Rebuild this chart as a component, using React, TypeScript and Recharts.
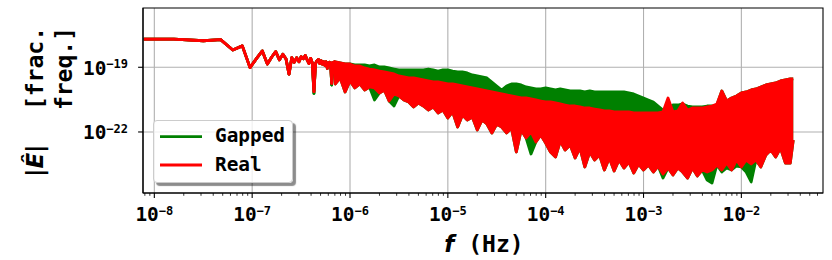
import React from 'react';
import { ComposedChart, Area, XAxis, YAxis, CartesianGrid, Legend, ReferenceArea, Label } from 'recharts';

const MONO = "'DejaVu Sans Mono', monospace";
const MATH = "'DejaVu Sans', sans-serif";

// Low-frequency part: individual FFT bins (k * 1/T)
const sparseFreq = [
  7.8e-9, 1.585e-8, 3.17e-8, 4.76e-8, 6.34e-8, 7.93e-8, 9.51e-8, 1.11e-7, 1.27e-7, 1.43e-7,
  1.585e-7, 1.74e-7, 1.9e-7, 2.06e-7, 2.22e-7, 2.38e-7, 2.54e-7, 2.69e-7, 2.85e-7, 3.01e-7,
  3.17e-7, 3.33e-7, 3.49e-7, 3.65e-7, 3.8e-7, 3.96e-7, 4.12e-7, 4.28e-7, 4.44e-7, 4.6e-7,
  4.76e-7, 4.91e-7, 5.07e-7, 5.23e-7, 5.39e-7, 5.55e-7, 5.71e-7, 5.86e-7, 6.02e-7, 6.18e-7,
  6.34e-7, 6.5e-7, 6.66e-7, 6.82e-7, 6.97e-7,
];
const sparseReal = [
  2.0e-18, 2.0e-18, 1.7e-18, 1.9e-18, 6.3e-19, 9.8e-19, 9.6e-20, 2.6e-19, 5.7e-19, 1.4e-19,
  3.0e-19, 5.3e-19, 2.2e-19, 4.0e-19, 2.4e-19, 4.8e-20, 2.8e-19, 1.7e-19, 2.8e-19, 1.8e-19,
  3.1e-19, 2.5e-19, 3.5e-19, 2.2e-19, 1.5e-19, 2.6e-19, 1.6e-19, 7.4e-21, 1.5e-19, 2.0e-19,
  2.3e-19, 1.5e-19, 2.0e-19, 1.4e-19, 1.8e-19, 1.2e-19, 1.8e-19, 8.9e-20, 1.5e-19, 1.7e-19,
  1.5e-19, 1.8e-20, 1.7e-19, 1.2e-19, 1.8e-19,
];
const sparseGapped = [
  2.0e-18, 2.0e-18, 1.7e-18, 1.9e-18, 6.3e-19, 9.8e-19, 9.6e-20, 2.6e-19, 5.7e-19, 1.4e-19,
  3.0e-19, 5.3e-19, 2.2e-19, 4.0e-19, 2.4e-19, 4.8e-20, 2.8e-19, 1.7e-19, 2.8e-19, 1.8e-19,
  3.1e-19, 2.5e-19, 3.5e-19, 2.2e-19, 1.5e-19, 2.6e-19, 1.6e-19, 6.2e-21, 1.5e-19, 2.0e-19,
  2.3e-19, 1.5e-19, 2.0e-19, 1.4e-19, 1.8e-19, 1.2e-19, 1.8e-19, 8.9e-20, 1.5e-19, 1.7e-19,
  1.5e-19, 1.5e-20, 1.7e-19, 1.2e-19, 1.8e-19,
];

// High-frequency part: upper / lower envelope of the dense noise band
const bandFreq = [
  7.08e-7, 7.94e-7, 8.91e-7,
  1.0e-6, 1.12e-6, 1.26e-6, 1.41e-6, 1.58e-6, 1.78e-6, 2.0e-6, 2.24e-6, 2.51e-6, 2.82e-6,
  3.16e-6, 3.55e-6, 3.98e-6, 4.47e-6, 5.01e-6, 5.62e-6, 6.31e-6, 7.08e-6, 7.94e-6, 8.91e-6,
  1.0e-5, 1.12e-5, 1.26e-5, 1.41e-5, 1.58e-5, 1.78e-5, 2.0e-5, 2.24e-5, 2.51e-5, 2.82e-5,
  3.16e-5, 3.55e-5, 3.98e-5, 4.47e-5, 5.01e-5, 5.62e-5, 6.31e-5, 7.08e-5, 7.94e-5, 8.91e-5,
  1.0e-4, 1.12e-4, 1.26e-4, 1.41e-4, 1.58e-4, 1.78e-4, 2.0e-4, 2.24e-4, 2.51e-4, 2.82e-4,
  3.16e-4, 3.55e-4, 3.98e-4, 4.47e-4, 5.01e-4, 5.62e-4, 6.31e-4, 7.08e-4, 7.94e-4, 8.91e-4,
  1.0e-3, 1.12e-3, 1.26e-3, 1.41e-3, 1.58e-3, 1.78e-3, 2.0e-3, 2.24e-3, 2.51e-3, 2.82e-3,
  3.16e-3, 3.55e-3, 3.98e-3, 4.47e-3, 5.01e-3, 5.62e-3, 6.31e-3, 7.08e-3, 7.94e-3, 8.91e-3,
  1.0e-2, 1.12e-2, 1.26e-2, 1.41e-2, 1.58e-2, 1.78e-2, 2.0e-2, 2.24e-2, 2.51e-2, 2.82e-2,
  3.16e-2, 3.39e-2,
];
const gappedHigh = [
  1.76e-19, 1.58e-19, 1.42e-19, 1.42e-19, 1.28e-19, 1.28e-19, 1.28e-19, 1.15e-19, 1.28e-19, 1.03e-19,
  1.03e-19, 9.3e-20, 8.3e-20, 7.5e-20, 7.5e-20, 7.5e-20, 7.5e-20, 7.5e-20, 7.5e-20, 8.3e-20,
  7.5e-20, 6.7e-20, 7.5e-20, 7.5e-20, 6.7e-20, 6.05e-20, 6.05e-20, 5.44e-20, 4.4e-20, 3.95e-20,
  3.55e-20, 3.19e-20, 2.08e-20, 1.36e-20, 8.85e-21, 1.36e-20, 1.68e-20, 1.68e-20, 1.51e-20, 1.22e-20,
  1.1e-20, 9.85e-21, 9.85e-21, 1.1e-20, 9.85e-21, 8.85e-21, 9.85e-21, 8.85e-21, 7.96e-21, 7.96e-21,
  7.96e-21, 7.15e-21, 7.96e-21, 7.15e-21, 7.15e-21, 7.15e-21, 7.15e-21, 7.15e-21, 7.15e-21, 7.15e-21,
  6.43e-21, 5.78e-21, 4.67e-21, 3.77e-21, 3.04e-21, 2.46e-21, 1.6e-21, 1.045e-21, 1.29e-21, 1.78e-21,
  1.78e-21, 1.99e-21, 1.6e-21, 1.44e-21, 1.44e-21, 1.44e-21, 1.6e-21, 1.6e-21, 1.78e-21, 7.96e-21,
  2.73e-21, 3.77e-21, 4.67e-21, 6.43e-21, 7.15e-21, 8.85e-21, 9.85e-21, 1.22e-20, 1.51e-20, 1.68e-20,
  1.87e-20, 2.32e-20, 2.58e-20, 2.87e-20, 2.87e-20,
];
const gappedLow = [
  1.68e-20, 3.19e-20, 7.15e-21, 2.32e-20, 1.1e-20, 1.68e-20, 8.85e-21, 1.22e-20, 3.04e-21, 6.43e-21,
  8.85e-21, 2.73e-21, 1.6e-21, 4.67e-21, 3.04e-21, 2.46e-21, 1.44e-21, 2.21e-21, 1.6e-21, 1.045e-21,
  1.44e-21, 7.6e-22, 1.045e-21, 4.45e-22, 8.45e-22, 1.7e-22, 6.1e-22, 3.6e-22, 4.95e-22, 1.24e-22,
  3.6e-22, 2.34e-22, 8.97e-23, 2.34e-22, 1.7e-22, 8.97e-23, 1.53e-22, 1.18e-23, 1.24e-22, 5.26e-23,
  9.5e-24, 3.43e-23, 7.24e-23, 3.08e-23, 1.18e-23, 6.9e-24, 3.82e-23, 1.46e-23, 2.49e-23, 6.2e-24,
  1.81e-23, 2.38e-24, 1.18e-23, 5.0e-24, 8.55e-24, 1.72e-24, 6.2e-24, 1.55e-24, 5.0e-24, 2.13e-24,
  4.05e-24, 1.25e-24, 3.27e-24, 1.72e-24, 2.94e-24, 1.39e-24, 2.64e-24, 7.3e-25, 2.13e-24, 1.01e-24,
  2.13e-24, 1.39e-24, 7.3e-25, 2.13e-24, 9.1e-25, 1.72e-24, 5.9e-25, 4.3e-25, 2.94e-24, 1.39e-24,
  2.13e-24, 1.72e-24, 2.64e-24, 2.38e-24, 1.39e-24, 4.8e-25, 5.0e-24, 2.38e-24, 8.55e-24, 1.46e-23,
  6.9e-24, 1.81e-23, 3.64e-24, 3.64e-24, 4.25e-23,
];
const realHigh = [
  1.76e-19, 1.58e-19, 1.42e-19, 1.42e-19, 1.15e-19, 1.15e-19, 9.3e-20, 8.3e-20, 7.5e-20, 6.7e-20,
  6.05e-20, 5.44e-20, 4.89e-20, 3.95e-20, 3.55e-20, 3.19e-20, 3.19e-20, 2.87e-20, 2.58e-20, 2.32e-20,
  2.08e-20, 2.08e-20, 1.87e-20, 1.68e-20, 1.68e-20, 1.51e-20, 1.36e-20, 1.22e-20, 1.1e-20, 9.85e-21,
  8.85e-21, 7.96e-21, 7.15e-21, 6.43e-21, 5.78e-21, 5.19e-21, 4.67e-21, 4.19e-21, 3.77e-21, 3.77e-21,
  3.39e-21, 3.04e-21, 2.73e-21, 2.46e-21, 2.46e-21, 2.21e-21, 1.99e-21, 1.78e-21, 1.6e-21, 1.6e-21,
  1.44e-21, 1.29e-21, 1.29e-21, 1.16e-21, 1.045e-21, 9.4e-22, 9.4e-22, 8.45e-22, 8.45e-22, 8.45e-22,
  8.45e-22, 7.6e-22, 7.6e-22, 7.6e-22, 7.6e-22, 7.6e-22, 7.6e-22, 8.45e-22, 3.77e-21, 8.45e-22,
  9.4e-22, 2.21e-21, 1.045e-21, 1.29e-21, 1.29e-21, 1.29e-21, 1.44e-21, 1.6e-21, 1.99e-21, 7.96e-21,
  2.73e-21, 3.77e-21, 4.67e-21, 6.43e-21, 7.15e-21, 8.85e-21, 9.85e-21, 1.22e-20, 1.51e-20, 1.68e-20,
  1.87e-20, 2.32e-20, 2.58e-20, 2.87e-20, 2.87e-20,
];
const realLow = [
  1.68e-20, 3.19e-20, 7.15e-21, 2.32e-20, 1.1e-20, 1.68e-20, 8.85e-21, 1.22e-20, 1.1e-20, 6.43e-21,
  8.85e-21, 2.73e-21, 5.78e-21, 4.67e-21, 3.04e-21, 2.46e-21, 1.44e-21, 2.21e-21, 1.6e-21, 1.045e-21,
  1.44e-21, 7.6e-22, 1.045e-21, 4.45e-22, 8.45e-22, 1.7e-22, 6.1e-22, 3.6e-22, 4.95e-22, 1.24e-22,
  3.6e-22, 2.34e-22, 8.97e-23, 2.34e-22, 1.7e-22, 8.97e-23, 1.53e-22, 1.18e-23, 1.24e-22, 5.26e-23,
  9.97e-23, 3.43e-23, 7.24e-23, 3.08e-23, 1.18e-23, 6.9e-24, 3.82e-23, 1.46e-23, 2.49e-23, 6.2e-24,
  1.81e-23, 2.38e-24, 1.18e-23, 5.0e-24, 8.55e-24, 1.72e-24, 6.2e-24, 1.55e-24, 5.0e-24, 2.13e-24,
  4.05e-24, 1.25e-24, 3.27e-24, 1.72e-24, 2.94e-24, 1.39e-24, 2.64e-24, 1.12e-24, 2.13e-24, 1.01e-24,
  2.13e-24, 1.39e-24, 7.3e-25, 2.13e-24, 9.1e-25, 1.72e-24, 1.39e-24, 1.72e-24, 2.94e-24, 1.72e-24,
  3.64e-24, 1.72e-24, 5.0e-24, 2.38e-24, 5.0e-24, 3.27e-24, 5.0e-24, 2.38e-24, 8.55e-24, 1.46e-23,
  6.9e-24, 1.81e-23, 3.64e-24, 3.64e-24, 4.25e-23,
];

const seriesNames = ['Gapped', 'Real'];
const seriesColors = ['#008000', '#ff0000'];

const xMajorTicks = [1e-8, 1e-7, 1e-6, 1e-5, 1e-4, 1e-3, 1e-2];
const xExponents = ['\u22128', '\u22127', '\u22126', '\u22125', '\u22124', '\u22123', '\u22122'];
const yMajorTicks = [1e-22, 1e-19];
const yExponents = ['\u221222', '\u221219'];
const minorDecades = [1e-9, 1e-8, 1e-7, 1e-6, 1e-5, 1e-4, 1e-3, 1e-2];
const minorSteps = [2, 3, 4, 5, 6, 7, 8, 9];

const X_DOMAIN: [number, number] = [7.66e-9, 6.83e-2];
const Y_DOMAIN: [number, number] = [1.48e-25, 5.6e-17];

const xTicks = [
  ...xMajorTicks,
  ...minorDecades.flatMap((d) => minorSteps.map((m) => m * d)).filter((v) => v >= X_DOMAIN[0] && v <= X_DOMAIN[1]),
].sort((a, b) => a - b);

const rows = [
  ...sparseFreq.map((f, i) => ({ f, gapped: [sparseGapped[i], sparseGapped[i]], real: [sparseReal[i], sparseReal[i]] })),
  ...bandFreq.map((f, i) => ({ f, gapped: [gappedLow[i], gappedHigh[i]], real: [realLow[i], realHigh[i]] })),
];

const XTick = (props: any) => {
  const { x, y, payload } = props;
  const idx = xMajorTicks.indexOf(payload.value);
  const major = idx >= 0;
  return (
    <g>
      <line x1={x} x2={x} y1={y} y2={y + (major ? 4.9 : 2.8)} stroke="#000" strokeWidth={major ? 1.1 : 0.8} />
      {major && (
        <text x={x} y={y + 28} textAnchor="middle" fontFamily={MONO} fontWeight="bold" fontSize={19.4} fill="#000">
          10<tspan fontSize={12} dy={-6.5}>{xExponents[idx]}</tspan>
        </text>
      )}
    </g>
  );
};

const YTick = (props: any) => {
  const { x, y, payload } = props;
  const idx = yMajorTicks.indexOf(payload.value);
  return (
    <g>
      <line x1={x - 4.9} x2={x} y1={y} y2={y} stroke="#000" strokeWidth={1.1} />
      <text x={x - 15} y={y + 7.5} textAnchor="end" fontFamily={MONO} fontWeight="bold" fontSize={19.4} fill="#000">
        10<tspan fontSize={12} dy={-6.5}>{yExponents[idx]}</tspan>
      </text>
    </g>
  );
};

const XTitle = () => (
  <text x={484} y={251.5} textAnchor="middle" fontFamily={MONO} fontWeight="bold" fontSize={23} fill="#000">
    <tspan fontFamily={MATH} fontStyle="italic">f</tspan> (Hz)
  </text>
);

const YTitle = () => (
  <g fontWeight="bold" fontSize={23} fill="#000">
    <text transform="translate(42.5,27) rotate(-90)" textAnchor="end" fontFamily={MONO}>[frac.</text>
    <text transform="translate(71.5,27) rotate(-90)" textAnchor="end" fontFamily={MONO}>freq.]</text>
    <text transform="translate(42.5,177) rotate(-90)" textAnchor="start" fontFamily={MATH}>
      |<tspan fontStyle="italic">Ê</tspan>|
    </text>
  </g>
);

const LegendBox = (props: any) => {
  const payload = (props.payload || []).filter((p: any) => seriesNames.includes(p.value));
  return (
    <div
      style={{
        width: 140,
        height: 63,
        boxSizing: 'border-box',
        border: '1px solid #cccccc',
        borderRadius: 4,
        background: 'rgba(255,255,255,0.8)',
        boxShadow: '3px 3px 1px rgba(0,0,0,0.45)',
      }}
    >
      <svg width={138} height={61} style={{ display: 'block' }}>
        {payload.map((p: any, i: number) => (
          <g key={p.value}>
            <line x1={6} x2={48} y1={15.7 + i * 28.3} y2={15.7 + i * 28.3} stroke={seriesColors[seriesNames.indexOf(p.value)]} strokeWidth={2.8} />
            <text x={61} y={21.3 + i * 28.3} fontFamily={MONO} fontWeight="bold" fontSize={19.4} fill="#000">
              {p.value}
            </text>
          </g>
        ))}
      </svg>
    </div>
  );
};

export default function App() {
  return (
    <div style={{ position: 'absolute', left: 0, top: 0, width: 832, height: 260, background: '#fff' }}>
      <ComposedChart width={832} height={260} data={rows} margin={{ top: 8, right: 9, bottom: 0, left: 0 }}>
        <CartesianGrid stroke="#b0b0b0" strokeWidth={1.1} verticalValues={xMajorTicks} horizontalValues={yMajorTicks} />
        <XAxis
          type="number"
          dataKey="f"
          scale="log"
          domain={X_DOMAIN}
          allowDataOverflow
          ticks={xTicks}
          interval={0}
          tick={XTick}
          tickLine={false}
          tickSize={0}
          tickMargin={0}
          height={67}
          axisLine={{ stroke: '#000', strokeWidth: 1.1 }}
        >
          <Label content={XTitle} />
        </XAxis>
        <YAxis
          type="number"
          scale="log"
          domain={Y_DOMAIN}
          allowDataOverflow
          ticks={yMajorTicks}
          interval={0}
          tick={YTick}
          tickLine={false}
          tickSize={0}
          tickMargin={0}
          width={143}
          axisLine={{ stroke: '#000', strokeWidth: 1.1 }}
        >
          <Label content={YTitle} />
        </YAxis>
        <Area
          dataKey="gapped"
          name={seriesNames[0]}
          type="linear"
          stroke={seriesColors[0]}
          strokeWidth={2.8}
          strokeLinejoin="round"
          fill={seriesColors[0]}
          fillOpacity={1}
          dot={false}
          activeDot={false}
          legendType="line"
          isAnimationActive={false}
        />
        <Area
          dataKey="real"
          name={seriesNames[1]}
          type="linear"
          stroke={seriesColors[1]}
          strokeWidth={2.8}
          strokeLinejoin="round"
          fill={seriesColors[1]}
          fillOpacity={1}
          dot={false}
          activeDot={false}
          legendType="line"
          isAnimationActive={false}
        />
        <ReferenceArea
          x1={X_DOMAIN[0]}
          x2={X_DOMAIN[1]}
          y1={Y_DOMAIN[0]}
          y2={Y_DOMAIN[1]}
          fill="none"
          stroke="#000"
          strokeWidth={1.1}
          ifOverflow="visible"
        />
        <Legend
          layout="horizontal"
          verticalAlign="middle"
          align="center"
          content={LegendBox}
          wrapperStyle={{ position: 'absolute', left: 153, top: 120, width: 140, height: 63 }}
        />
      </ComposedChart>
    </div>
  );
}
